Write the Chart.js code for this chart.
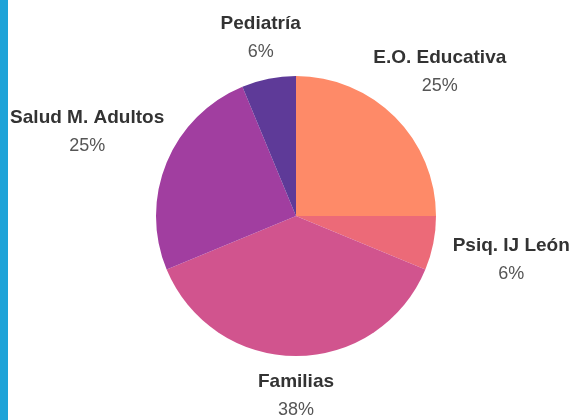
<!DOCTYPE html>
<html>
<head>
<meta charset="utf-8">
<script src="https://cdn.jsdelivr.net/npm/chart.js@4/dist/chart.umd.min.js"></script>
<style>
  html, body { margin: 0; padding: 0; background: #fff; }
  #wrap { position: relative; width: 579px; height: 420px; }
  #bar { position: absolute; left: 0; top: 0; width: 8px; height: 420px; background: #1ea3d8; }
</style>
</head>
<body>
<div id="wrap">
  <div id="bar"></div>
  <canvas id="pieChart" width="579" height="420"></canvas>
</div>
<script>
const categorias = ['E.O. Educativa', 'Psiq. IJ León', 'Familias', 'Salud M. Adultos', 'Pediatría'];
const valores = [4, 1, 6, 4, 1];
const colores = ['#fe8a68', '#ec6a78', '#d1548e', '#a13ea0', '#5e3a98'];

// labels outside the slices: bold name + percentage below
const outsideLabels = {
  id: 'outsideLabels',
  afterDatasetsDraw(chart) {
    const ctx = chart.ctx;
    const meta = chart.getDatasetMeta(0);
    const total = valores.reduce((s, v) => s + v, 0);
    ctx.save();
    ctx.textAlign = 'center';
    ctx.textBaseline = 'middle';
    meta.data.forEach((arc, i) => {
      const mid = (arc.startAngle + arc.endAngle) / 2;
      const dx = Math.cos(mid);
      const dy = Math.sin(mid);
      ctx.font = 'bold 19px "Liberation Sans"';
      const halfW = ctx.measureText(categorias[i]).width / 2;
      const r = arc.outerRadius + 40;
      const x = arc.x + dx * r + Math.pow(dx, 3) * halfW * 0.7;
      const y = arc.y + dy * r + dy * dx * dx * 47;
      ctx.fillStyle = '#333';
      ctx.fillText(categorias[i], x, y - 14);
      ctx.font = '18px "Liberation Sans"';
      ctx.fillStyle = '#555';
      ctx.fillText(Math.round((valores[i] / total) * 100) + '%', x, y + 14);
    });
    ctx.restore();
  },
};

new Chart(document.getElementById('pieChart'), {
  type: 'pie',
  data: {
    labels: categorias,
    datasets: [
      {
        data: valores,
        backgroundColor: colores,
        borderWidth: 0,
      },
    ],
  },
  options: {
    responsive: false,
    animation: false,
    layout: {
      padding: { left: 100, right: 87, top: 76, bottom: 64 },
    },
    plugins: {
      legend: { display: false },
      tooltip: { enabled: false },
    },
  },
  plugins: [outsideLabels],
});
</script>
</body>
</html>
